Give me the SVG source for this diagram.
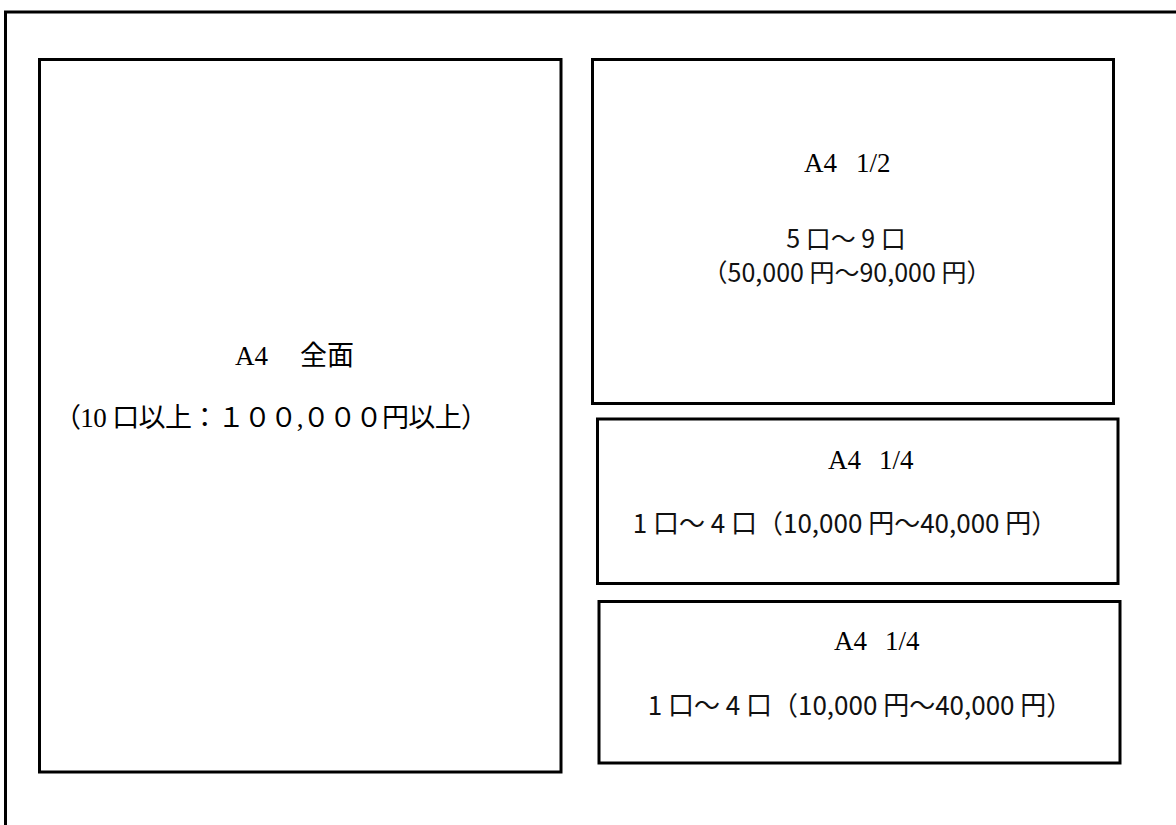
<svg xmlns="http://www.w3.org/2000/svg" width="1176" height="825" viewBox="0 0 1176 825">
<style>
.frame{fill:none;stroke:#000;stroke-width:3}
.box{fill:#fff;stroke:#000;stroke-width:3}
.ser{font-family:"Liberation Serif","Noto Sans CJK JP",serif;font-size:27px;fill:#000}
.san{font-family:"Noto Sans CJK JP","Liberation Sans",sans-serif;font-size:26px;fill:#111;text-anchor:middle}
</style>
<rect width="1176" height="825" fill="#fff"/>
<rect class="frame" x="5.5" y="12" width="1180" height="830"/>
<g id="full">
<rect class="box" x="39.5" y="59.5" width="521.5" height="712.5"/>
<text class="ser" x="235" y="365">A4<tspan x="300">全面</tspan></text>
<text class="ser" x="54" y="427" textLength="434" lengthAdjust="spacing">（10 口以上：１００,０００円以上）</text>
</g>
<g id="half">
<rect class="box" x="592.5" y="59.5" width="521" height="344"/>
<text class="ser" x="804" y="172">A4<tspan x="856">1/2</tspan></text>
<text class="san" x="846" y="248" style="font-size:25px">5 口～ 9 口</text>
<text class="san" x="847" y="282" style="font-size:25px">（50,000 円～90,000 円）</text>
</g>
<g id="quarter1">
<rect class="box" x="597.5" y="419" width="520.5" height="164.5"/>
<text class="ser" x="828" y="469">A4<tspan x="879">1/4</tspan></text>
<text class="san" x="845" y="533">1 口～ 4 口（10,000 円～40,000 円）</text>
</g>
<g id="quarter2">
<rect class="box" x="599" y="601.5" width="521" height="161.5"/>
<text class="ser" x="834" y="650">A4<tspan x="885">1/4</tspan></text>
<text class="san" x="860" y="715">1 口～ 4 口（10,000 円～40,000 円）</text>
</g>
<g id="connectors"/>
</svg>
